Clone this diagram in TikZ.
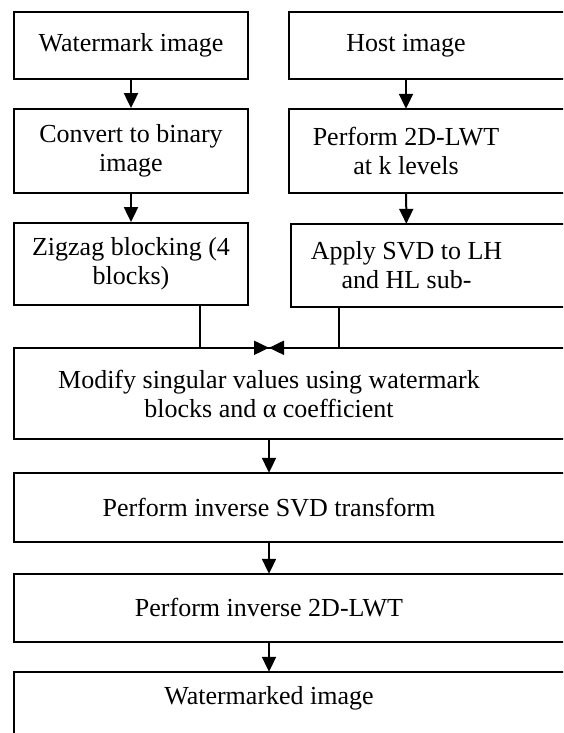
\documentclass[tikz,border=0pt]{standalone}
\usepackage{fontspec}
\setmainfont{Liberation Serif}
\usetikzlibrary{arrows.meta}
\begin{document}
\begin{tikzpicture}[x=1pt,y=-1pt]
	\tikzstyle{every node}=[rectangle,align=center,inner sep=0pt,font=\fontsize{26}{29}\selectfont]
	\tikzstyle{box}=[draw=black,line width=1.8pt,minimum width=234pt]
	\tikzstyle{cutbox}=[minimum width=234pt]
	\tikzstyle{frame}=[draw=black,line width=1.8pt]
	\tikzstyle{arr}=[line width=2pt,-{Triangle[length=15pt,width=14pt]}]
	\useasboundingbox (0,0) rectangle (563,733);
	\clip (0,0) rectangle (563,733);
	\node[box,minimum height=67pt] (wmimg) at (131,45.5) {Watermark image};
	\node[box,minimum height=84pt] (binary) at (131,151) {Convert to binary\\image};
	\node[box,minimum height=82pt] (zigzag) at (131,264) {Zigzag blocking (4\\blocks)};
	\node[cutbox,minimum height=67pt] (host) at (406,45.5) {Host image};
	\node[cutbox,minimum height=84pt] (lwt) at (406,151) {Perform 2D-LWT\\at k levels};
	\node[cutbox,minimum width=231pt,minimum height=83pt] (svd) at (406.5,265.5) {Apply SVD to LH\\and HL sub-};
	\node[cutbox,minimum width=510pt,minimum height=91pt] (modify) at (269,393.5) {Modify singular values using watermark\\blocks and α coefficient};
	\node[cutbox,minimum width=510pt,minimum height=69pt] (invsvd) at (269,507.5) {Perform inverse SVD transform};
	\node[cutbox,minimum width=510pt,minimum height=68pt] (invlwt) at (269,608) {Perform inverse 2D-LWT};
	\node[cutbox,minimum width=510pt,minimum height=52pt] (marked) at (269,698) {Watermarked image};
	\draw[frame] (host.north west) rectangle ([xshift=60pt]host.south east);
	\draw[frame] (lwt.north west) rectangle ([xshift=60pt]lwt.south east);
	\draw[frame] (svd.north west) rectangle ([xshift=60pt]svd.south east);
	\draw[frame] (modify.north west) rectangle ([xshift=60pt]modify.south east);
	\draw[frame] (invsvd.north west) rectangle ([xshift=60pt]invsvd.south east);
	\draw[frame] (invlwt.north west) rectangle ([xshift=60pt]invlwt.south east);
	\draw[frame] (marked.north west) rectangle ([xshift=60pt,yshift=-40pt]marked.south east);
	\draw[arr] (wmimg) -- (binary);
	\draw[arr] (binary) -- (zigzag);
	\draw[arr] (host) -- (lwt);
	\draw[arr] (lwt) -- (svd);
	\draw[arr] ([xshift=69pt]zigzag.south) |- (modify.north);
	\draw[arr] ([xshift=-68pt]svd.south) |- (modify.north);
	\draw[arr] (modify) -- (invsvd);
	\draw[arr] (invsvd) -- (invlwt);
	\draw[arr] (invlwt) -- (marked);
\end{tikzpicture}
\end{document}
